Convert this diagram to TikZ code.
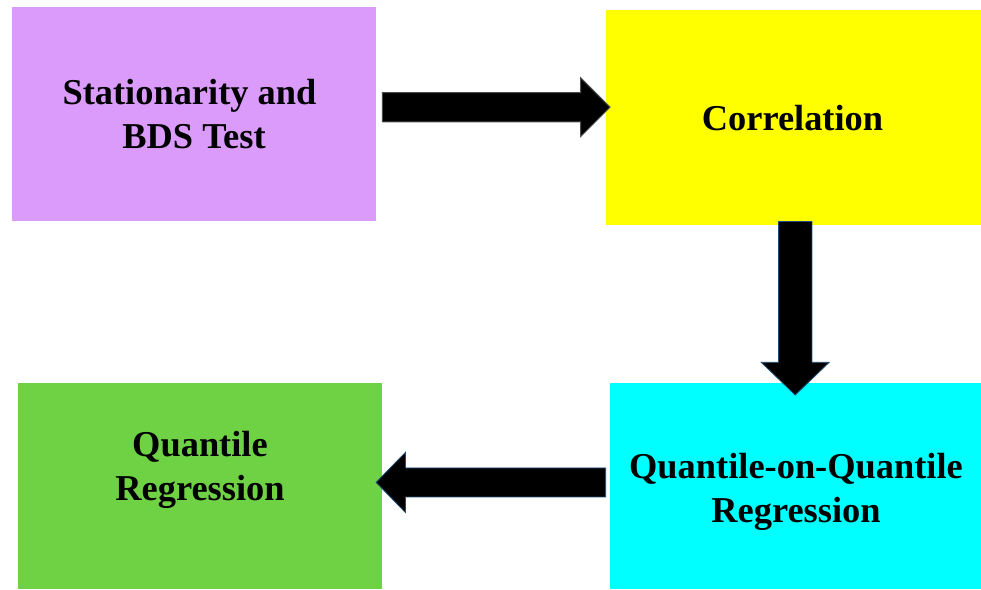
\documentclass[tikz,border=0pt]{standalone}
\usepackage{fontspec}
\setmainfont{Liberation Serif}
\usetikzlibrary{calc}
\definecolor{boxviolet}{HTML}{DB9BFB}
\definecolor{boxyellow}{HTML}{FFFF00}
\definecolor{boxcyan}{HTML}{00FFFF}
\definecolor{boxgreen}{HTML}{6FD244}
\definecolor{arrowedge}{HTML}{1F4E79}
\tikzset{
  box/.style={rectangle, draw=none, inner sep=0pt, anchor=north west},
  lbl/.style={align=center, inner sep=0pt, anchor=base,
    font=\fontsize{36.4}{43.5}\selectfont\bfseries},
  blockarrow/.style args={#1/#2/#3}{to path={
    let \p1=(\tikztostart), \p2=(\tikztotarget),
        \n1={atan2(\y2-\y1,\x2-\x1)}, \n2={veclen(\x2-\x1,\y2-\y1)} in
    {[shift={(\p1)}, rotate=\n1]
      (0pt,-#1pt) -- ({\n2*1pt-#3pt},-#1pt) -- ({\n2*1pt-#3pt},-#2pt)
      -- ({\n2*1pt},0pt) -- ({\n2*1pt-#3pt},#2pt) -- ({\n2*1pt-#3pt},#1pt)
      -- (0pt,#1pt) -- cycle}
  }},
  arrowbody/.style={fill=black, draw=arrowedge, line width=1pt, line join=miter}
}
\begin{document}
\begin{tikzpicture}[x=1pt,y=-1pt]
\useasboundingbox (0,0) rectangle (981,589);
% boxes
\node[box, fill=boxviolet, minimum width=364pt, minimum height=214pt] (stat) at (12,7) {};
\node[box, fill=boxyellow, minimum width=375pt, minimum height=215.5pt] (corr) at (606,9.5) {};
\node[box, fill=boxcyan, minimum width=371pt, minimum height=206pt] (qqr) at (610,383) {};
\node[box, fill=boxgreen, minimum width=364pt, minimum height=206pt] (qr) at (18,383) {};
% labels (anchor base = baseline of the last line)
\node[lbl] (statT) at (194,148) {Stationarity and\kern.25em\\BDS Test};
\node[lbl] (corrT) at (792.5,130) {Correlation};
\node[lbl] (qqrT) at (796,522) {Quantile-on-Quantile\\Regression};
\node[lbl] (qrT) at (200,500) {Quantile\\Regression};
% arrow end points
\coordinate (a1s) at ($(stat.east)+(6,-7)$);
\coordinate (a1e) at ($(corr.west |- a1s)+(4,0)$);
\coordinate (a2s) at ($(corr.south)+(1.5,-4)$);
\coordinate (a2e) at ($(qqr.north -| a2s)+(0,12)$);
\coordinate (a3s) at ($(qqr.west)+(-4.3,-3.8)$);
\coordinate (a3e) at ($(qr.east |- a3s)+(-6.3,0)$);
% arrows
\draw[arrowbody, draw=black!70] (a1s) to[blockarrow=14.7/29.3/29.3] (a1e);
\draw[arrowbody, line width=0.8pt] (a2s) to[blockarrow=16.7/34/32.7] (a2e);
\draw[arrowbody, line width=0.8pt] (a3s) to[blockarrow=14.5/30/29.3] (a3e);
\end{tikzpicture}
\end{document}
